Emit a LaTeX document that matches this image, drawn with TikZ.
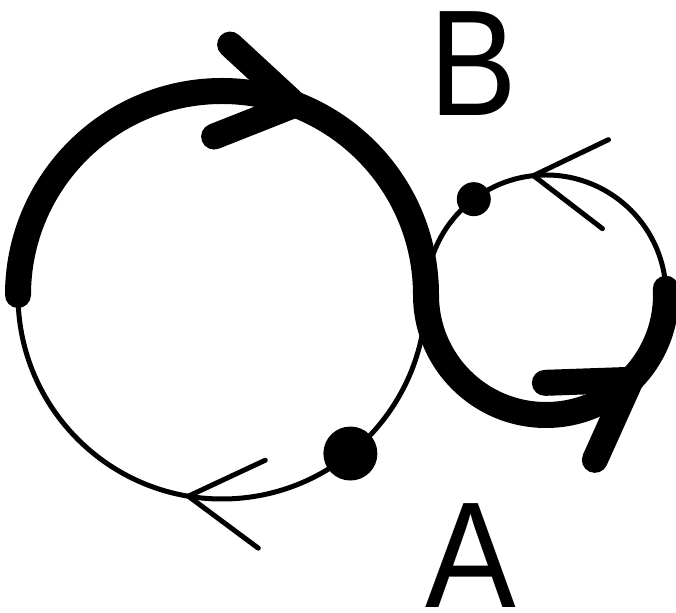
\documentclass[tikz,border=0pt]{standalone}
\usepackage{fontspec}
\setmainfont{Liberation Sans}
\newcommand{\barbs}[4]{\draw[#1] (#2) -- ++(#3) (#2) -- ++(#4);}

\begin{document}
\begin{tikzpicture}[x=1pt, y=1pt, line cap=round,
  loopline/.style={line width=5pt},
  boldline/.style={line width=26pt},
  letter/.style={font=\fontsize{151}{151}\selectfont, inner sep=0pt}]
\useasboundingbox (0,0) rectangle (676,612);
\coordinate (O1) at (222,317);
\coordinate (O2) at (546,317);
\path (O1) ++(180:204) coordinate (s);
\path (O1) ++(69:204) coordinate (t1);
\path (O2) ++(-45:120) coordinate (t2);
\path (O1) ++(260.5:204) coordinate (t3);
\path (O2) ++(96:120) coordinate (t4);
\path (O1) ++(-51:204) coordinate (d1);
\path (O2) ++(127:120) coordinate (d2);
\draw[loopline] (O1) circle [radius=204];
\draw[loopline] (O2) circle [radius=120];
\draw[boldline] (s) arc [start angle=180, end angle=0, radius=204]
  arc [start angle=180, end angle=363, radius=120];
\barbs{boldline}{t1}{-65,60}{-81,-32}
\barbs{boldline}{t2}{-86,-3}{-36,-80}
\barbs{loopline}{t3}{77,36}{70,-52}
\barbs{loopline}{t4}{75,36}{69,-53}
\fill (d1) circle [radius=27];
\fill (d2) circle [radius=17];
\node[letter] (B) at (473,548) {\scalebox{0.87}[1]{B}};
\node[letter] (A) at (471,56) {\scalebox{0.9}[1]{A}};
\end{tikzpicture}
\end{document}
